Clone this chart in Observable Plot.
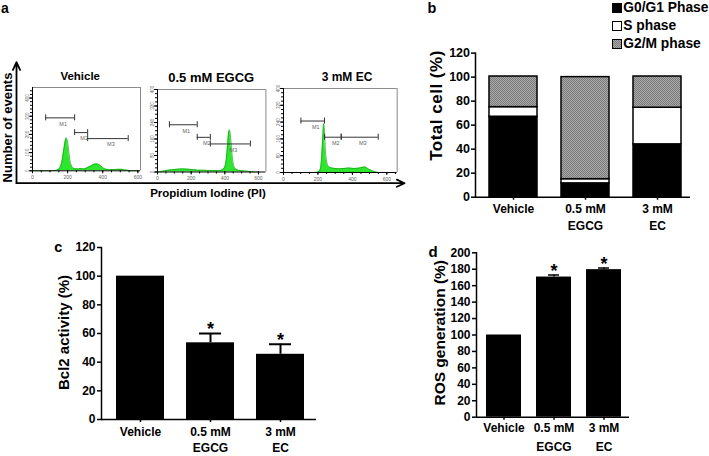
<!DOCTYPE html>
<html><head><meta charset="utf-8">
<script src="https://cdn.jsdelivr.net/npm/d3@7"></script>
<script src="https://cdn.jsdelivr.net/npm/@observablehq/plot@0.6"></script>
<style>
body{margin:0;background:#fff;}
#fig{position:relative;width:709px;height:456px;overflow:hidden;background:#fff;font-family:"Liberation Sans",Arial,Helvetica,sans-serif;color:#000;}
#fig svg{position:absolute;}
.t{position:absolute;white-space:nowrap;font-weight:bold;line-height:1;}
</style></head>
<body><div id="fig"></div>
<script>
const FONT = '"Liberation Sans", Arial, Helvetica, sans-serif';

// ---------------- data ----------------
const groups = ["Vehicle", "0.5 mM EGCG", "3 mM EC"];
const groupTickLabels = ["Vehicle", "0.5 mM\nEGCG", "3 mM\nEC"];
const histTitles = ["Vehicle", "0.5 mM EGCG", "3 mM EC"];
const phases = ["G0/G1 Phase", "S phase", "G2/M phase"];
const phaseG0G1 = [67, 11.5, 44];
const phaseS = [8, 3.5, 30.5];
const phaseG2M = [25.5, 85, 26];
const bcl2Mean = [100, 53.5, 45.5];
const bcl2SE = [0, 6.5, 7];
const rosMean = [100, 170.5, 179.5];
const rosSE = [0, 2.5, 2];
const significance = ["", "*", "*"];
const totalCellTicks = [0, 20, 40, 60, 80, 100, 120];
const bcl2Ticks = [0, 20, 40, 60, 80, 100, 120];
const rosTicks = [0, 20, 40, 60, 80, 100, 120, 140, 160, 180, 200];
const piTicks = [0, 200, 400, 600];
const vehicleCountTicks = [0, 100, 200, 300, 400];
const treatedCountTicks = [0, 80, 160, 240, 320, 400];

// DNA histograms: [PI intensity, number of events]
const histVehicle = [[0,0],[100,0],[130,2],[145,6],[160,24],[170,64],[180,128],[188,172],[193,180],[198,168],[205,120],[212,64],[220,32],[230,16],[245,11],[260,10],[275,13],[290,10],[305,14],[320,21],[335,28],[350,36],[362,38],[375,36],[390,26],[405,14],[420,8],[440,6],[470,7],[500,8],[520,6],[540,3],[555,0],[600,0]];
const histEGCG = [[0,0],[30,3],[60,8],[100,12],[140,15],[170,14],[200,12],[240,9],[280,8],[320,7],[360,7],[385,10],[400,25],[410,70],[418,150],[424,198],[428,203],[433,180],[440,110],[448,50],[458,20],[475,10],[500,6],[530,4],[560,2],[580,0],[600,0]];
const histEC = [[0,0],[180,0],[205,3],[215,20],[222,80],[228,170],[233,232],[238,200],[243,110],[250,55],[258,32],[270,24],[290,20],[320,18],[350,19],[380,21],[410,19],[440,21],[460,25],[475,26],[490,18],[510,10],[530,4],[550,0],[600,0]];

// marker gates: PI range and drawing level (in events)
const gatesVehicle = [{name:"M1", from:75, to:240, level:291}, {name:"M2", from:240, to:314, level:210}, {name:"M3", from:314, to:545, level:177}];
const gatesEGCG = [{name:"M1", from:71, to:236, level:229}, {name:"M2", from:236, to:314, level:168}, {name:"M3", from:314, to:552, level:136}];
const gatesEC = [{name:"M1", from:101, to:238, level:245}, {name:"M2", from:238, to:335, level:168}, {name:"M3", from:335, to:550, level:168}];

// big axis arrows of panel a (unit frame)
const axisArrows = [{x1:0, y1:0, x2:0, y2:1}, {x1:0, y1:0, x2:1, y2:0}];

// ---------------- helpers ----------------
const fig = document.getElementById("fig");
function place(el, left, top) { el.style.left = left + "px"; el.style.top = top + "px"; fig.appendChild(el); return el; }
// text centred (after rotation) on (cx, cy), measured from the rendered box
function txt(s, cx, cy, size, opts = {}) {
  const d = document.createElement("div");
  d.className = "t";
  d.textContent = s;
  d.style.left = "0px"; d.style.top = "0px"; d.style.fontSize = size + "px";
  if (opts.css) d.style.cssText += opts.css;
  if (opts.rot) d.style.transform = "rotate(-90deg)";
  fig.appendChild(d);
  const r = d.getBoundingClientRect(), f = fig.getBoundingClientRect();
  const mx = (r.left + r.right) / 2 - f.left, my = (r.top + r.bottom) / 2 - f.top;
  const ax = opts.leftAt !== undefined ? opts.leftAt - (r.left - f.left) : cx - mx;
  d.style.left = ax + "px";
  d.style.top = (cy - my) + "px";
  return d;
}
const baseStyle = {fontFamily: FONT, background: "transparent", overflow: "visible", color: "black"};

// ---------------- panel a ----------------
place(Plot.plot({
  width: 420, height: 145, marginLeft: 16, marginRight: 16, marginTop: 11.7, marginBottom: 12.3,
  x: {domain: [0, 1], axis: null}, y: {domain: [0, 1], axis: null},
  style: baseStyle,
  marks: [Plot.arrow(axisArrows, {x1: "x1", y1: "y1", x2: "x2", y2: "y2", stroke: "black", strokeWidth: 1.8, headLength: 7, headAngle: 50})]
}), 0, 50);

function histogram(data, gates, yTicks, yMinor, xMax, yMax, box) {
  const mL = 12, mR = 3, mT = 3, mB = 12;
  const fw = box.right - box.left, fh = box.bottom - box.top;
  const rows = data.map(([pi, count]) => ({pi, count}));
  const ends = gates.flatMap(g => [{x: g.from, y: g.level}, {x: g.to, y: g.level}]);
  const svg = Plot.plot({
    width: fw + mL + mR, height: fh + mT + mB,
    marginLeft: mL, marginRight: mR, marginTop: mT, marginBottom: mB,
    x: {domain: [0, xMax]}, y: {domain: [0, yMax]},
    style: baseStyle,
    marks: [
      Plot.ruleY([yMax], {stroke: "#8a8a8a", strokeWidth: 1}),
      Plot.ruleX([xMax], {stroke: "#8a8a8a", strokeWidth: 1}),
      Plot.areaY(rows, {x: "pi", y: "count", fill: "#2ee62e", curve: "monotone-x"}),
      Plot.lineY(rows, {x: "pi", y: "count", stroke: "#15a015", strokeWidth: 0.7, curve: "monotone-x"}),
      Plot.ruleY(gates, {y: "level", x1: "from", x2: "to", stroke: "#333", strokeWidth: 1}),
      Plot.ruleX(ends, {x: "x", y1: "y", y2: "y", insetTop: -3, insetBottom: -3, stroke: "#333", strokeWidth: 1}),
      Plot.text(gates, {x: d => (d.from + d.to) / 2, y: "level", text: "name", dx: 3, dy: 6, fontSize: 5.5, fill: "#666"}),
      Plot.axisY({ticks: d3.range(0, yMax + 1, yMinor), tickSize: 2, tickFormat: () => "", label: null}),
      Plot.axisY({ticks: yTicks, tickSize: 3, tickPadding: 1, tickRotate: -90, fontSize: 4.6, fill: "#666", label: null}),
      Plot.axisX({ticks: d3.range(0, xMax, 50), tickSize: 2, tickFormat: () => "", label: null}),
      Plot.axisX({ticks: piTicks, tickSize: 3, tickPadding: 1.5, fontSize: 5, fill: "#666", label: null}),
      Plot.ruleX([0], {stroke: "black", strokeWidth: 1}),
      Plot.ruleY([0], {stroke: "black", strokeWidth: 1})
    ]
  });
  return place(svg, box.left - mL, box.top - mT);
}
histogram(histVehicle, gatesVehicle, vehicleCountTicks, 20, 615, 458, {left: 32, right: 140, top: 86.7, bottom: 170});
histogram(histEGCG, gatesEGCG, treatedCountTicks, 20, 644, 400, {left: 157.3, right: 265.7, top: 89, bottom: 171.5});
histogram(histEC, gatesEC, treatedCountTicks, 20, 660, 400, {left: 283, right: 396.7, top: 87.5, bottom: 171.5});

txt("a", 5, 7.5, 14);
txt(histTitles[0], 80.2, 77, 11.5);
txt(histTitles[1], 211.2, 77, 13);
txt(histTitles[2], 347, 77, 12);
txt("Number of events", 7.5, 127, 13, {rot: true});
txt("Propidium Iodine (PI)", 208, 194, 11.5);

// ---------------- panel b ----------------
const stackRows = groups.flatMap((g, i) => [
  {group: g, phase: phases[0], value: phaseG0G1[i]},
  {group: g, phase: phases[1], value: phaseS[i]},
  {group: g, phase: phases[2], value: phaseG2M[i]}
]);
const pb = Plot.plot({
  width: 280, height: 200, marginLeft: 55, marginRight: 10, marginTop: 12.6, marginBottom: 43.3,
  x: {domain: groups, paddingInner: 0.33, paddingOuter: 0.15, align: 0.6},
  y: {domain: [0, 120]},
  color: {domain: phases, range: ["black", "white", "url(#hatchB)"]},
  style: {...baseStyle, fontWeight: "bold"},
  marks: [
    Plot.barY(stackRows, {x: "group", y: "value", fill: "phase", stroke: "black", strokeWidth: 1.5}),
    Plot.axisY({ticks: totalCellTicks, tickSize: 4, tickPadding: 1.5, fontSize: 12.5, fontWeight: "bold", strokeWidth: 1.5, label: null}),
    Plot.axisX({tickSize: 3, tickPadding: 1.1, tickFormat: (d, i) => groupTickLabels[groups.indexOf(d)], fontSize: 12, fontWeight: "bold", lineHeight: 1.39, strokeWidth: 1.5, label: null}),
    Plot.frame({anchor: "left", strokeWidth: 1.5}),
    Plot.ruleY([0], {strokeWidth: 1.5})
  ]
});
const defs = document.createElementNS("http://www.w3.org/2000/svg", "defs");
defs.innerHTML = '<pattern id="hatchB" width="2" height="2" patternUnits="userSpaceOnUse"><rect width="2" height="2" fill="#aaaaaa"/><rect width="1" height="1" fill="#7a7a7a"/><rect x="1" y="1" width="1" height="1" fill="#7a7a7a"/></pattern>';
pb.insertBefore(defs, pb.firstChild);
place(pb, 420, 40);

txt("b", 432, 8.5, 14.5);
txt("Total cell (%)", 436, 105, 17, {rot: true, css: "letter-spacing:0.5px;"});
const legendFills = ["#000", "#fff", "repeating-conic-gradient(#7a7a7a 0 25%, #aaaaaa 0 50%) 0 0/2px 2px"];
const legendY = [8.3, 25.5, 43.8];
phases.forEach((p, i) => {
  const sw = document.createElement("div");
  sw.style.cssText = `position:absolute;left:612px;top:${legendY[i] - 5}px;width:9.5px;height:10px;box-sizing:border-box;border:1.2px solid #000;background:${legendFills[i]};`;
  fig.appendChild(sw);
  txt(p, 0, legendY[i], 13.8, {leftAt: 623.3});
});

// ---------------- panels c and d ----------------
function barPanel(means, ses, ticks, yMax, o) {
  const rows = groups.map((g, i) => ({group: g, mean: means[i], se: ses[i], sig: significance[i]}));
  const err = rows.filter(d => d.se > 0);
  return Plot.plot({
    width: o.width, height: o.height, marginLeft: o.mL, marginRight: 10, marginTop: o.mT, marginBottom: o.mB,
    x: {domain: groups, paddingInner: o.pi, paddingOuter: o.po, align: o.align},
    y: {domain: [0, yMax]},
    style: {...baseStyle, fontWeight: "bold"},
    marks: [
      Plot.barY(rows, {x: "group", y: "mean", fill: "black"}),
      Plot.ruleX(err, {x: "group", y1: "mean", y2: d => d.mean + d.se, stroke: "black", strokeWidth: o.ew}),
      Plot.tickY(err, {x: "group", y: d => d.mean + d.se, stroke: "black", strokeWidth: o.ew, insetLeft: o.cap, insetRight: o.cap}),
      Plot.text(rows, {x: "group", y: d => d.mean + d.se, text: "sig", dy: -4, fontSize: 18, fontWeight: "bold"}),
      Plot.axisY({ticks, tickSize: 4, tickPadding: 2, fontSize: 12, fontWeight: "bold", strokeWidth: 1.5, label: null}),
      Plot.axisX({tickSize: 3, tickPadding: o.tp, tickFormat: d => groupTickLabels[groups.indexOf(d)], fontSize: 12, fontWeight: "bold", lineHeight: o.lh, strokeWidth: 1.5, label: null}),
      Plot.frame({anchor: "left", strokeWidth: 1.5}),
      Plot.ruleY([0], {strokeWidth: 1.5})
    ]
  });
}
place(barPanel(bcl2Mean, bcl2SE, bcl2Ticks, 120, {width: 286, height: 229, mL: 61, mT: 12, mB: 45, pi: 0.317, po: 0.179, align: 0.55, ew: 2, cap: 13, tp: 1.1, lh: 1.4}), 40, 235);
txt("c", 58.3, 247, 14.5);
txt("Bcl2 activity (%)", 64, 332.5, 15, {rot: true});

place(barPanel(rosMean, rosSE, rosTicks, 200, {width: 219, height: 221.7, mL: 56, mT: 12.3, mB: 45, pi: 0.31, po: 0.158, align: 0.53, ew: 1.5, cap: 12, tp: -1.4, lh: 1.56}), 420, 240);
txt("d", 433, 251, 15);
txt("ROS generation (%)", 440, 333, 15.5, {rot: true});
</script>
</body></html>
